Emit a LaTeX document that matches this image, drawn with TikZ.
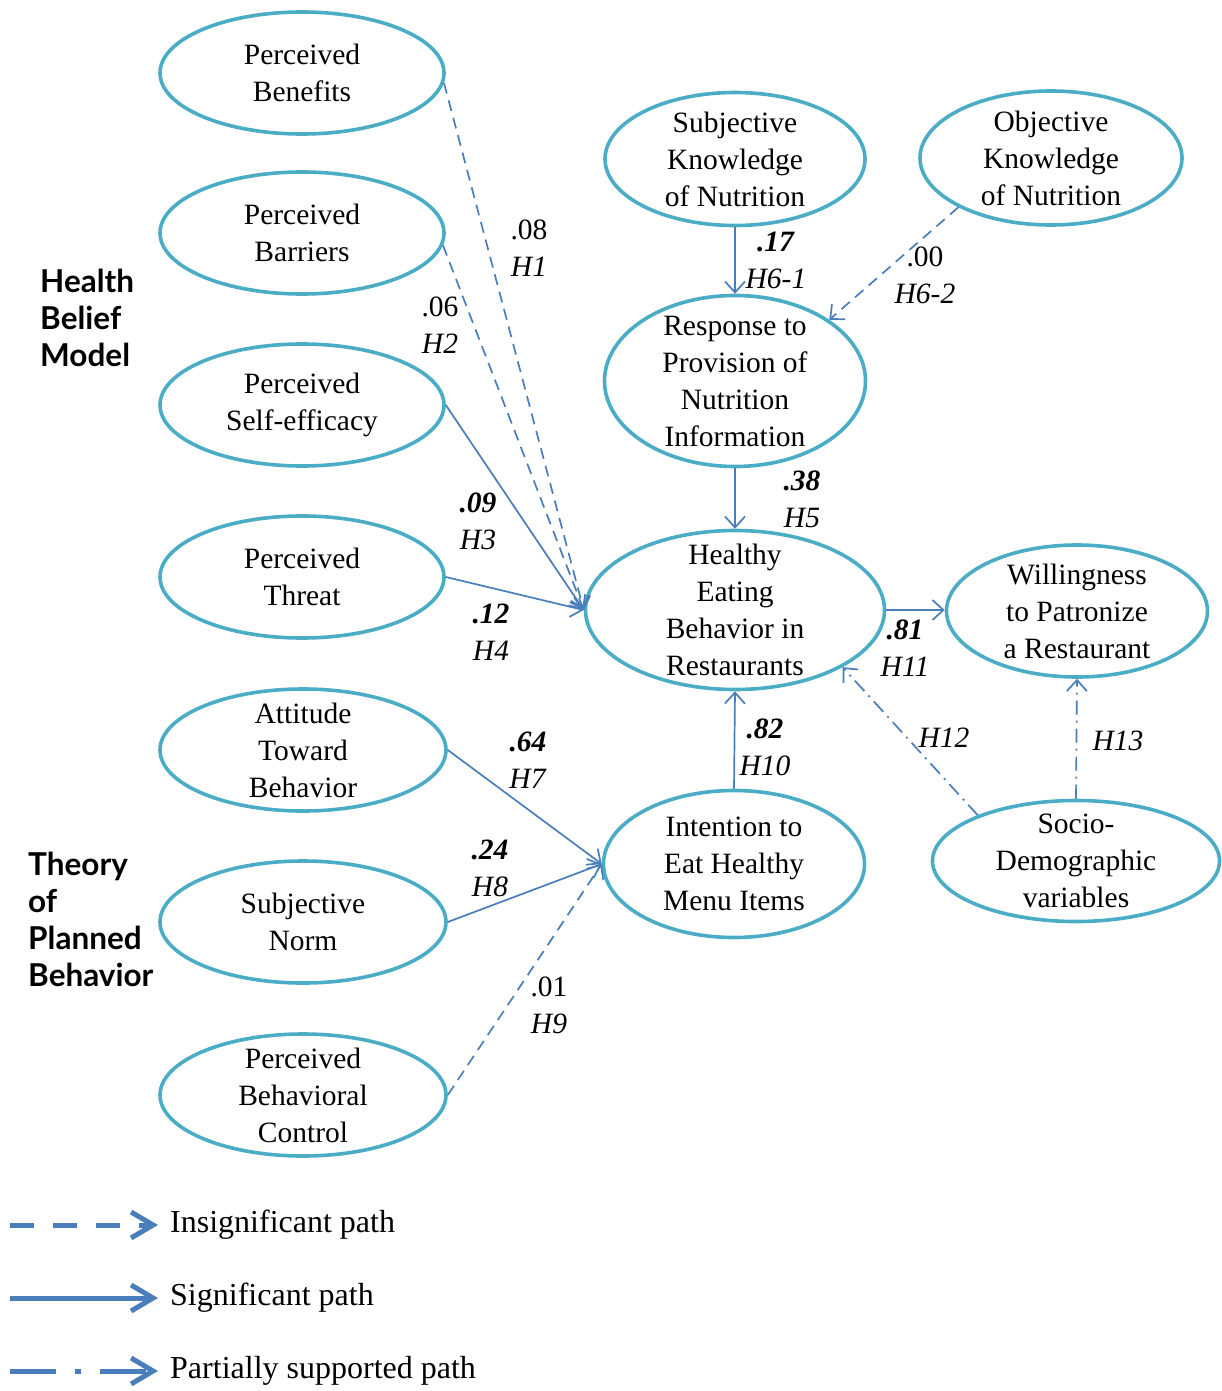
\documentclass[tikz,border=0pt]{standalone}
\usepackage{fontspec}
\setmainfont{Liberation Serif}
\newfontfamily\modelfont{Lato}
\usetikzlibrary{shapes.geometric,arrows.meta}
\definecolor{ringcol}{HTML}{4BACC6}
\definecolor{pathcol}{HTML}{4A7EBB}
\begin{document}
\begin{tikzpicture}[x=1pt,y=-1pt,
  construct/.style={ellipse,draw=ringcol,line width=3.6pt,inner sep=-40pt,align=center,
    font=\fontsize{29.5}{37}\selectfont},
  link/.style={draw=pathcol,line width=1.7pt,-{Straight Barb[length=11pt,width=20pt,line width=1.7pt]}},
  insig/.style={link,dash pattern=on 11pt off 7pt},
  partial/.style={link,dash pattern=on 14pt off 6pt on 2pt off 6pt},
  coef/.style={align=center,font=\fontsize{29.5}{37}\selectfont,inner sep=0pt},
  group/.style={align=left,font=\modelfont\bfseries\fontsize{31.5}{37}\selectfont,inner sep=0pt,anchor=west},
  legline/.style={draw=pathcol,line width=5pt,-{Straight Barb[length=22pt,width=26pt,line width=5pt]}},
  legtext/.style={anchor=west,inner sep=0pt,font=\fontsize{32}{37}\selectfont}]
\useasboundingbox (0,0) rectangle (1221,1391);

% Health Belief Model constructs
\node[construct,minimum width=284pt,minimum height=122pt] (pb)   at (302,73)  {Perceived\\Benefits};
\node[construct,minimum width=284pt,minimum height=122pt] (pbar) at (302,233) {Perceived\\Barriers};
\node[construct,minimum width=284pt,minimum height=122pt] (pse)  at (302,405) {Perceived\\Self-efficacy};
\node[construct,minimum width=284pt,minimum height=122pt] (pt)   at (302,577) {Perceived\\Threat};

% Theory of Planned Behavior constructs
\node[construct,minimum width=286pt,minimum height=122pt] (atb) at (303,750)  {Attitude\\Toward\\Behavior};
\node[construct,minimum width=286pt,minimum height=122pt] (sn)  at (303,922)  {Subjective\\Norm};
\node[construct,minimum width=286pt,minimum height=122pt] (pbc) at (303,1095) {Perceived\\Behavioral\\Control};

% Nutrition knowledge and outcomes
\node[construct,minimum width=260pt,minimum height=133pt] (skn)  at (735,159)  {Subjective\\Knowledge\\of Nutrition};
\node[construct,minimum width=262pt,minimum height=134pt] (okn)  at (1051,158) {Objective\\Knowledge\\of Nutrition};
\node[construct,minimum width=261pt,minimum height=171pt] (resp) at (735,381)  {Response to\\Provision of\\Nutrition\\Information};
\node[construct,minimum width=299pt,minimum height=159pt] (he)   at (735,610)  {Healthy\\Eating\\Behavior in\\Restaurants};
\node[construct,minimum width=261pt,minimum height=132pt] (wil)  at (1077,611) {Willingness\\to Patronize\\a Restaurant};
\node[construct,minimum width=261pt,minimum height=147pt] (int)  at (734,864)  {Intention to\\Eat Healthy\\Menu Items};
\node[construct,minimum width=287pt,minimum height=121pt] (sd)   at (1076,861) {Socio-\\Demographic\\variables};

% Model group titles
\node[group] (hbm) at (40,318) {Health\\Belief\\Model};
\node[group] (tpb) at (28,919) {Theory\\of\\Planned\\Behavior};

% Paths
\draw[insig]   (pb.-4)   -- (he.180);
\draw[insig]   (pbar.-5) -- (he.180);
\draw[link]    (pse.0)   -- (he.180);
\draw[link]    (pt.0)    -- (he.180);
\draw[link]    (skn.south) -- (resp.north);
\draw[insig]   (okn.208) -- (resp.33);
\draw[link]    (resp.south) -- (he.north);
\draw[link]    (he.east) -- (he.east -| wil.west);
\draw[link]    (int.north) -- (he.south);
\draw[partial] (sd.155) -- (he.-28);
\draw[partial] (sd.north) -- (wil.south);
\draw[link]    (atb.0) -- (int.180);
\draw[link]    (sn.0)  -- (int.180);
\draw[insig]   (pbc.0) -- (int.180);

% Path coefficients and hypotheses
\node[coef] (c1)  at (529,248)  {.08\\\textit{H1}};
\node[coef] (c2)  at (440,325)  {.06\\\textit{H2}};
\node[coef] (c3)  at (478,521)  {\textbf{\textit{.09}}\\\textit{H3}};
\node[coef] (c4)  at (491,632)  {\textbf{\textit{.12}}\\\textit{H4}};
\node[coef] (c61) at (776,260)  {\textbf{\textit{.17}}\\\textit{H6-1}};
\node[coef] (c62) at (925,275)  {.00\\\textit{H6-2}};
\node[coef] (c5)  at (802,499)  {\textbf{\textit{.38}}\\\textit{H5}};
\node[coef] (c11) at (905,648)  {\textbf{\textit{.81}}\\\textit{H11}};
\node[coef] (c10) at (765,747)  {\textbf{\textit{.82}}\\\textit{H10}};
\node[coef] (c12) at (944,738)  {\textit{H12}};
\node[coef] (c13) at (1118,741) {\textit{H13}};
\node[coef] (c7)  at (528,760)  {\textbf{\textit{.64}}\\\textit{H7}};
\node[coef] (c8)  at (490,868)  {\textbf{\textit{.24}}\\\textit{H8}};
\node[coef] (c9)  at (549,1005) {.01\\\textit{H9}};

% Legend
\coordinate (la0) at (10,1225);  \coordinate (la1) at (158,1225);
\coordinate (lb0) at (10,1298);  \coordinate (lb1) at (158,1298);
\coordinate (lc0) at (10,1371);  \coordinate (lc1) at (158,1371);
\draw[legline,dash pattern=on 24pt off 19pt] (la0) -- (la1);
\draw[legline] (lb0) -- (lb1);
\draw[legline,dash pattern=on 46pt off 19pt on 6pt off 19pt] (lc0) -- (lc1);
\node[legtext] (lt1) at (170,1225) {Insignificant path};
\node[legtext] (lt2) at (170,1298) {Significant path};
\node[legtext] (lt3) at (170,1371) {Partially supported path};
\end{tikzpicture}
\end{document}
